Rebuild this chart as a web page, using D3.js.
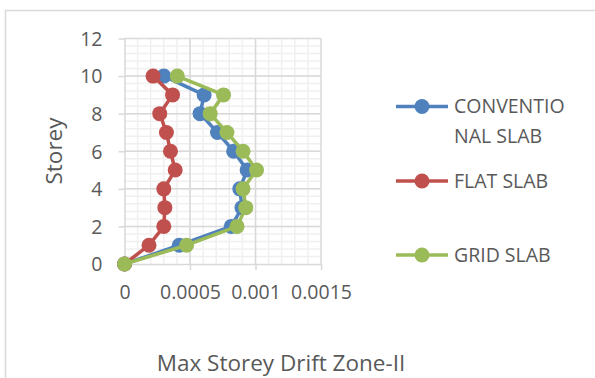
<!DOCTYPE html>
<html>
<head>
<meta charset="utf-8">
<script src="https://cdn.jsdelivr.net/npm/d3@7"></script>
<style>
  body { margin: 0; background: #fff; }
  svg text { font-family: "Open Sans", sans-serif; fill: #595959; }
</style>
</head>
<body>
<svg width="595" height="378"></svg>
<script>
// storey numbers (y) shared by every series
const storeys = [0, 1, 2, 3, 4, 5, 6, 7, 8, 9, 10];
const conventional = [0, 0.000418, 0.000815, 0.000897, 0.00088, 0.000936, 0.000833, 0.00071, 0.000577, 0.000608, 0.000300];
const flat = [0, 0.000187, 0.0003, 0.000308, 0.0003, 0.000387, 0.000351, 0.00032, 0.000269, 0.000367, 0.000218];
const grid = [0, 0.000474, 0.000859, 0.000926, 0.000905, 0.001008, 0.000905, 0.000782, 0.000654, 0.000756, 0.000403];
const xTicks = [0, 0.0005, 0.001, 0.0015];
const xTickLabels = ["0", "0.0005", "0.001", "0.0015"];
const yTicks = [0, 2, 4, 6, 8, 10, 12];
const seriesNames = [["CONVENTIO", "NAL SLAB"], ["FLAT SLAB"], ["GRID SLAB"]];
const colors = ["#4f81bd", "#c0504d", "#9bbb59"];

var svg = d3.select("svg"),
    width = +svg.attr("width"),
    height = +svg.attr("height");

const x = d3.scaleLinear().domain([0, 0.0015]).range([124.5, 321]);
const y = d3.scaleLinear().domain([0, 12]).range([264, 38.5]);

// chart border
svg.append("path")
  .attr("d", `M5.5,${height}V10.5H${width}`)
  .attr("fill", "none")
  .attr("stroke", "#d9d9d9")
  .attr("stroke-width", 1.5);

// minor gridlines
const gGrid = svg.append("g");
gGrid.selectAll(".vminor")
  .data(d3.range(1, 15).map((i) => i * 0.0001))
  .enter().append("line")
  .attr("x1", (d) => x(d)).attr("x2", (d) => x(d))
  .attr("y1", y(0)).attr("y2", y(12))
  .attr("stroke", "#f0f0f0").attr("stroke-width", 1.5);
gGrid.selectAll(".hminor")
  .data(d3.range(1, 30).map((i) => i * 0.4))
  .enter().append("line")
  .attr("x1", x(0)).attr("x2", x(0.0015))
  .attr("y1", (d) => y(d)).attr("y2", (d) => y(d))
  .attr("stroke", "#f0f0f0").attr("stroke-width", 1.5);

// major gridlines
gGrid.selectAll(".vmajor")
  .data(xTicks.slice(1))
  .enter().append("line")
  .attr("x1", (d) => x(d)).attr("x2", (d) => x(d))
  .attr("y1", y(0)).attr("y2", y(12))
  .attr("stroke", "#d9d9d9").attr("stroke-width", 1.5);
gGrid.selectAll(".hmajor")
  .data(yTicks.slice(1))
  .enter().append("line")
  .attr("x1", x(0)).attr("x2", x(0.0015))
  .attr("y1", (d) => y(d)).attr("y2", (d) => y(d))
  .attr("stroke", "#d9d9d9").attr("stroke-width", 1.5);

// axes
const xAxis = svg.append("g")
  .attr("transform", `translate(0,${y(0)})`)
  .call(d3.axisBottom(x).tickValues(xTicks)
    .tickFormat((d, i) => xTickLabels[i]).tickSize(6).tickSizeOuter(0).tickPadding(15));
const yAxis = svg.append("g")
  .attr("transform", `translate(${x(0)},0)`)
  .call(d3.axisLeft(y).tickValues(yTicks).tickSize(6).tickSizeOuter(0).tickPadding(16));
[xAxis, yAxis].forEach((a) => {
  a.select(".domain").attr("stroke", "#d9d9d9").attr("stroke-width", 1.5);
  a.selectAll(".tick line").attr("stroke", "#d9d9d9").attr("stroke-width", 1.5);
  a.selectAll(".tick text").style("font-size", "19.5px").attr("fill", "#595959")
    .style("font-family", "'Open Sans', sans-serif");
});
yAxis.selectAll(".tick text").attr("dy", "0.35em");

// series
const allSeries = [conventional, flat, grid];
const line = d3.line().x((d) => x(d[0])).y((d) => y(d[1]));
allSeries.forEach((vals, i) => {
  const pts = vals.map((v, j) => [v, storeys[j]]);
  const g = svg.append("g");
  g.append("path")
    .attr("d", line(pts))
    .attr("fill", "none")
    .attr("stroke", colors[i])
    .attr("stroke-width", 3.5)
    .attr("stroke-linejoin", "round");
  g.selectAll("circle")
    .data(pts)
    .enter().append("circle")
    .attr("cx", (d) => x(d[0]))
    .attr("cy", (d) => y(d[1]))
    .attr("r", 7.5)
    .attr("fill", colors[i]);
});

// axis titles
svg.append("text")
  .attr("x", 281).attr("y", 371)
  .attr("text-anchor", "middle")
  .style("font-size", "22.5px")
  .text("Max Storey Drift Zone-II");
svg.append("text")
  .attr("transform", "translate(62,151) rotate(-90)")
  .attr("text-anchor", "middle")
  .style("font-size", "22.5px")
  .text("Storey");

// legend
const legendY = [106.5, 181, 255];
seriesNames.forEach((names, i) => {
  const g = svg.append("g").attr("transform", `translate(0,${legendY[i]})`);
  g.append("line")
    .attr("x1", 396).attr("x2", 448)
    .attr("stroke", colors[i]).attr("stroke-width", 3.5);
  g.append("circle").attr("cx", 422).attr("r", 7.5).attr("fill", colors[i]);
  names.forEach((t, k) => {
    g.append("text")
      .attr("x", 454).attr("y", k * 30)
      .attr("dy", "0.35em")
      .style("font-size", "19.5px")
      .text(t);
  });
});
</script>
</body>
</html>
